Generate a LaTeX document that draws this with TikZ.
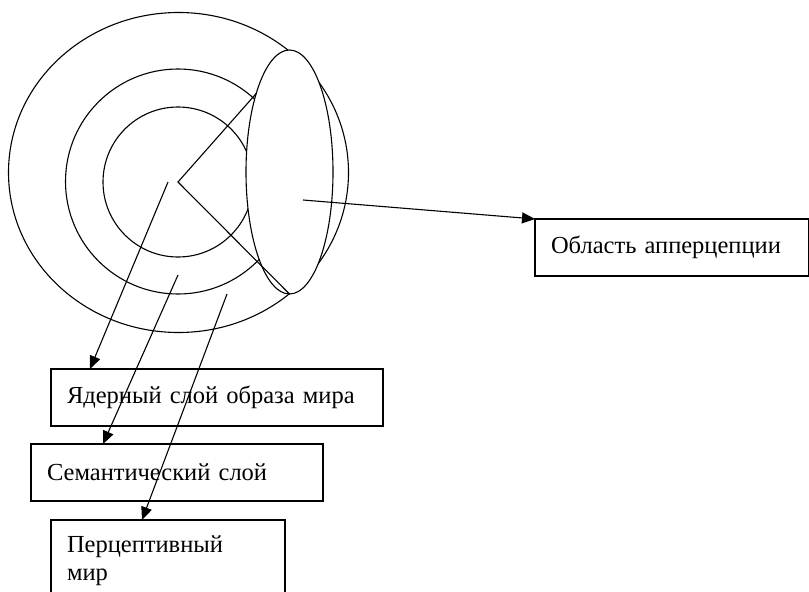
\documentclass[tikz,border=0pt]{standalone}
\usepackage{fontspec}
\setmainfont{Liberation Serif}
\usetikzlibrary{arrows.meta,shapes.geometric,calc}
\tikzset{
  ln/.style={line width=1.1pt, black},
  arr/.style={ln, -{Triangle[length=13pt,width=11pt]}},
  ring/.style={ln, draw, circle, inner sep=0pt, outer sep=0pt},
  lbox/.style={ln, draw, rectangle, anchor=north west, inner xsep=16pt, inner ysep=0pt,
    outer sep=0pt, align=left, font=\fontsize{24.5}{28}\selectfont}
}
\begin{document}
\begin{tikzpicture}[x=1pt,y=-1pt]
\useasboundingbox (0,0) rectangle (809,592);
\clip (0,0) rectangle (809,592);
% rings
\node[ln, draw, ellipse, inner sep=0pt, outer sep=0pt, minimum width=340pt, minimum height=320pt] (outer) at (178.5,172.5) {};
\node[ring, minimum size=225pt] (middle) at (178,181.5) {};
\node[ring, minimum size=150pt] (inner) at (178,182) {};
\node[ln, draw, fill=white, ellipse, inner sep=0pt, outer sep=0pt, minimum width=87pt, minimum height=244pt] (app) at (289.5,172) {};
\coordinate (v) at (178,182);
\draw[ln] (app.113) -- (v) -- (app.south);
% boxes
\node[lbox, minimum width=274pt, minimum height=57pt, text width=242pt] (ap) at (535,219) {Область апперцепции};
\node[lbox, minimum width=332pt, minimum height=57pt, text width=300pt] (b1) at (51,369) {Ядерный слой образа мира};
\node[lbox, minimum width=292pt, minimum height=57pt, text width=260pt] (b2) at (31,444) {Семантический слой};
\node[lbox, minimum width=234pt, minimum height=82pt, text width=202pt] (b3) at (51,520) {Перцептивный\\мир};
% arrows
\coordinate (s0) at (303,200);
\coordinate (s1) at (168,182);
\coordinate (s2) at (178,275);
\coordinate (s3) at (227,294);
\draw[arr] (s0) -- (ap.north west);
\draw[arr] (s1) -- ($(b1.north west)+(39,0)$);
\draw[arr] (s2) -- ($(b2.north west)+(72,0)$);
\draw[arr] (s3) -- ($(b3.north west)+(91,0)$);
\end{tikzpicture}
\end{document}
